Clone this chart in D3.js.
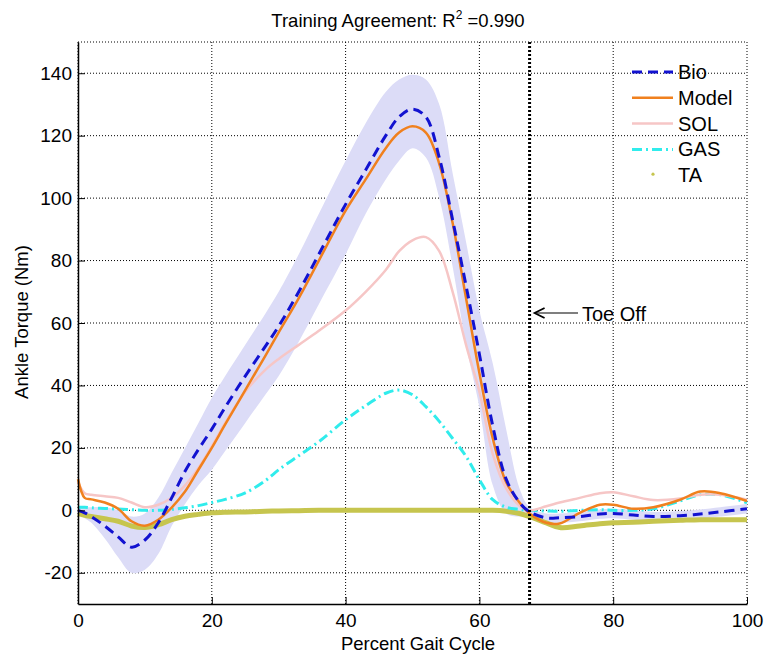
<!DOCTYPE html>
<html>
<head>
<meta charset="utf-8">
<script src="https://cdn.jsdelivr.net/npm/d3@7"></script>
<style>
  body { margin: 0; background: #fff; }
  text { font-family: "Liberation Sans", Arial, sans-serif; fill: #000; }
</style>
</head>
<body>
<div id="chart"></div>
<script>
// gait cycle sample points (%)
const pct = [0, 1, 2, 4, 6, 8, 10, 12, 14, 16, 18, 20, 22, 25, 28, 30, 33, 36, 40, 43, 46, 48, 50, 52, 54, 56, 58, 60, 62, 64, 66, 67.5, 70, 72, 75, 78, 80, 83, 86, 90, 93, 96, 100];

const bio   = [0, -0.8, -2, -5, -8.5, -11.8, -9.5, -4, 4, 12.5, 19.5, 26, 33, 43, 52.5, 59, 70, 82, 98, 109, 120, 126, 128.5, 126, 113, 93, 72, 50, 27, 10, 2.5, -0.5, -2.4, -2.4, -2, -1.2, -1, -1.5, -2, -1.7, -1.2, -0.5, 0.5];
const bioUpper = [1, 1, 1, 1, 0, -2, -1, 4, 12, 20, 28, 36, 43, 53, 63, 70, 82, 95, 112, 124, 134, 138, 139.5, 138, 130, 108, 86, 64, 47, 26, 7, 1, -1, -1, -0.5, 0.3, 0.5, 0, -0.5, -0.2, 0.3, 1, 2];
const bioLower = [-1, -2.5, -4, -9, -15, -20, -19, -14, -5, 2, 8, 13, 19, 28, 37, 43, 54, 66, 82, 95, 106, 112, 116, 113, 100, 78, 53, 33, 8, -1, -2, -2, -4, -4, -3.5, -2.7, -2.5, -3, -3.5, -3.2, -2.7, -2, -1];
const model = [10, 4, 3.5, 2.5, 0.5, -3.5, -4.9, -3, 0.9, 6, 13, 20, 27.5, 38.5, 49.5, 57, 68, 80, 96, 106, 116, 121, 123, 121, 111, 92, 68, 44, 23, 9, 2.5, -1, -4, -4.2, -0.8, 1.8, 1.8, 0.5, 1, 3.4, 6, 5.5, 3];
const sol   = [9, 5.5, 5, 4.5, 4, 2.5, 1, 1.8, 4, 8, 13.6, 20.5, 28, 38, 45, 48.5, 53, 57.5, 64, 70, 77, 83, 86.5, 87.5, 83, 70, 53, 38, 18, 7, 1.5, 0, 1.3, 2.5, 4, 5.5, 5.8, 4.5, 3.3, 3.8, 5, 5, 3.4];
const gas   = [1, 1, 0.8, 0.6, 0.4, 0.2, 0, 0, 0.3, 0.8, 1.5, 2.5, 3.5, 5.6, 9.5, 13, 17.5, 22, 29, 33.5, 37.5, 38.5, 37, 33.2, 28.5, 23, 17.3, 9.8, 3.4, 1, 0.3, 0, -0.2, -0.3, 0, 0.2, 0, 0, 0.5, 3, 5, 5, 2.4];
const ta    = [-1, -1.6, -2, -2.7, -3.5, -5, -5.5, -4.6, -3, -1.9, -1.3, -0.8, -0.6, -0.5, -0.3, -0.2, -0.1, 0, 0, 0, 0, 0, 0, 0, 0, 0, 0, 0, 0, -0.3, -1, -2, -4, -5.5, -5, -4.3, -4, -3.8, -3.5, -3.2, -3, -3, -3];

const toeOff = 67.5;
const xTicks = [0, 20, 40, 60, 80, 100];
const yTicks = [-20, 0, 20, 40, 60, 80, 100, 120, 140];
const legendNames = ["Bio", "Model", "SOL", "GAS", "TA"];

const width = 767, height = 655;
const margin = { top: 42, right: 20, bottom: 51, left: 78 };
const innerW = 747 - margin.left;
const innerH = 604 - margin.top;

const svg = d3.select("#chart").append("svg")
  .attr("width", width)
  .attr("height", height);

const x = d3.scaleLinear().domain([0, 100]).range([margin.left, margin.left + innerW]);
const y = d3.scaleLinear().domain([-30, 150]).range([margin.top + innerH, margin.top]);

// grid
svg.append("g").selectAll("line")
  .data(xTicks)
  .enter().append("line")
  .attr("x1", d => x(d)).attr("x2", d => x(d))
  .attr("y1", y(-30)).attr("y2", y(150))
  .attr("stroke", "#000").attr("stroke-width", 1).attr("stroke-dasharray", "1,2");

svg.append("g").selectAll("line")
  .data(yTicks.concat([150]))
  .enter().append("line")
  .attr("x1", x(0)).attr("x2", x(100))
  .attr("y1", d => y(d)).attr("y2", d => y(d))
  .attr("stroke", "#000").attr("stroke-width", 1).attr("stroke-dasharray", "1,2");

const curve = d3.curveCatmullRom.alpha(0.5);

// std band around Bio
const band = d3.area()
  .x((d, i) => x(pct[i]))
  .y0((d, i) => y(bioLower[i]))
  .y1((d, i) => y(bioUpper[i]))
  .curve(curve);

svg.append("path")
  .datum(pct)
  .attr("d", band)
  .attr("fill", "#dcdcf7");

const line = vals => d3.line()
  .x((d, i) => x(pct[i]))
  .y((d, i) => y(vals[i]))
  .curve(curve)(pct);

const series = [
  { name: "TA", vals: ta, color: "#c6c54e", width: 5, dash: null },
  { name: "GAS", vals: gas, color: "#30ecec", width: 3, dash: "10,4,2,4" },
  { name: "SOL", vals: sol, color: "#f6c6c6", width: 2.5, dash: null },
  { name: "Model", vals: model, color: "#f0801e", width: 2.5, dash: null },
  { name: "Bio", vals: bio, color: "#1212d0", width: 3, dash: "10,6" }
];

series.forEach(s => {
  svg.append("path")
    .attr("d", line(s.vals))
    .attr("fill", "none")
    .attr("stroke", s.color)
    .attr("stroke-width", s.width)
    .attr("stroke-dasharray", s.dash)
    .attr("stroke-linejoin", "round");
});

// toe off marker
svg.append("line")
  .attr("x1", x(toeOff)).attr("x2", x(toeOff))
  .attr("y1", y(-30)).attr("y2", y(150))
  .attr("stroke", "#000").attr("stroke-width", 3).attr("stroke-dasharray", "2,2");

const tipX = x(toeOff) + 5, arrowY = 313;
svg.append("line")
  .attr("x1", 578).attr("x2", tipX + 1)
  .attr("y1", arrowY).attr("y2", arrowY)
  .attr("stroke", "#000").attr("stroke-width", 1.2);
svg.append("path")
  .attr("d", `M${tipX + 10},${arrowY - 5} L${tipX},${arrowY} L${tipX + 10},${arrowY + 5}`)
  .attr("fill", "none")
  .attr("stroke", "#000")
  .attr("stroke-width", 1.8);

svg.append("text")
  .attr("x", 582).attr("y", 321)
  .attr("font-size", 20)
  .text("Toe Off");

// axes (plain hyphen for negatives, as in the original)
const fmt = d => String(d);
const xAxis = d3.axisBottom(x).tickValues(xTicks).tickFormat(fmt).tickSizeInner(-7).tickSizeOuter(0).tickPadding(10);
const yAxis = d3.axisLeft(y).tickValues(yTicks).tickFormat(fmt).tickSizeInner(-7).tickSizeOuter(0).tickPadding(6);

const gx = svg.append("g").attr("transform", `translate(0,${y(-30)})`).call(xAxis);
const gy = svg.append("g").attr("transform", `translate(${x(0)},0)`).call(yAxis);
[gx, gy].forEach(g => {
  g.selectAll("text").attr("font-size", 19).attr("font-family", "Liberation Sans, Arial, sans-serif");
  g.select(".domain").attr("stroke", "#000").attr("stroke-width", 1.5);
  g.selectAll(".tick line").attr("stroke", "#000");
});
gx.selectAll(".tick text").attr("dy", "0.71em");

// labels
svg.append("text")
  .attr("x", 398).attr("y", 27)
  .attr("text-anchor", "middle")
  .attr("font-size", 18.5)
  .html('Training Agreement: R<tspan dy="-8" font-size="12">2</tspan><tspan dy="8"> =0.990</tspan>');

svg.append("text")
  .attr("x", 418).attr("y", 650)
  .attr("text-anchor", "middle")
  .attr("font-size", 18.5)
  .text("Percent Gait Cycle");

svg.append("text")
  .attr("transform", `translate(28, 322) rotate(-90)`)
  .attr("text-anchor", "middle")
  .attr("font-size", 18.5)
  .text("Ankle Torque (Nm)");

// legend
const legend = svg.append("g").attr("transform", "translate(632, 72)");
const legendStyle = {
  Bio: series[4], Model: series[3], SOL: series[2], GAS: series[1], TA: series[0]
};
legendNames.forEach((name, i) => {
  const s = legendStyle[name];
  const row = legend.append("g").attr("transform", `translate(0, ${i * 25.8})`);
  if (name === "TA") {
    row.append("circle").attr("cx", 21).attr("cy", -1).attr("r", 1.6).attr("fill", s.color);
  } else {
    row.append("line")
      .attr("x1", 0).attr("x2", 41).attr("y1", 0).attr("y2", 0)
      .attr("stroke", s.color).attr("stroke-width", s.width)
      .attr("stroke-dasharray", s.dash);
  }
  row.append("text")
    .attr("x", 46).attr("y", 7)
    .attr("font-size", 20)
    .text(name);
});
</script>
</body>
</html>
